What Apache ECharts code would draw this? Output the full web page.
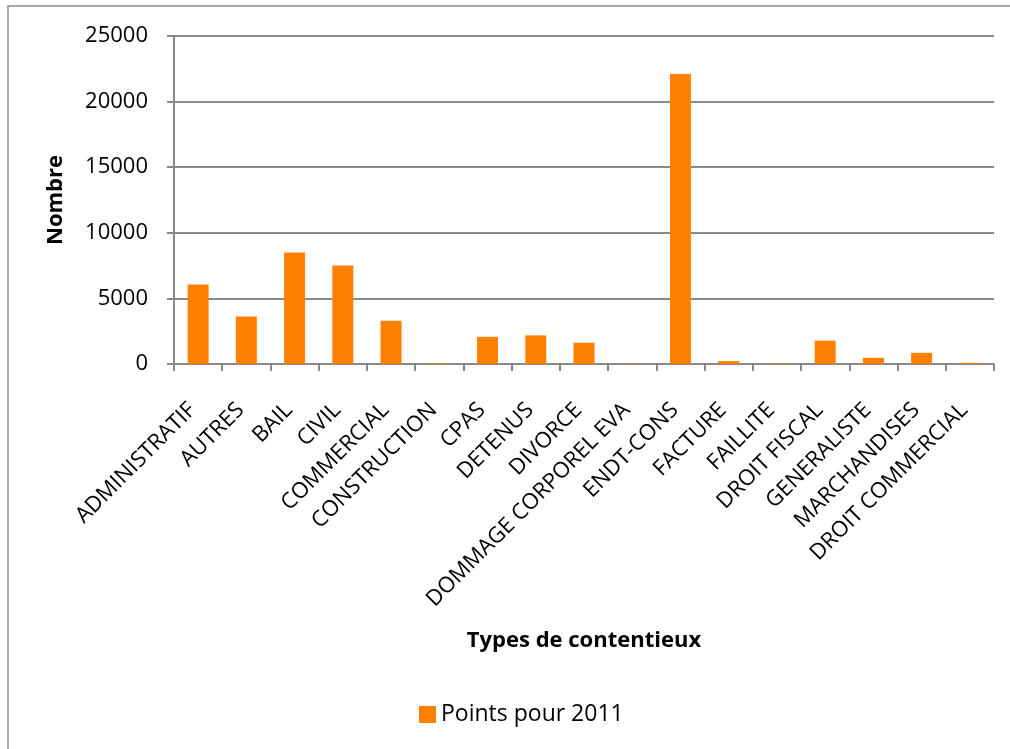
<!DOCTYPE html>
<html>
<head>
<meta charset="utf-8">
<script src="https://cdn.jsdelivr.net/npm/echarts@6/dist/echarts.min.js"></script>
<style>
html,body{margin:0;padding:0;background:#fff;}
#chart{width:1010px;height:749px;}
</style>
</head>
<body>
<div id="chart"></div>
<script>
const categories = ["ADMINISTRATIF","AUTRES","BAIL","CIVIL","COMMERCIAL","CONSTRUCTION","CPAS","DETENUS","DIVORCE","DOMMAGE CORPOREL EVA","ENDT-CONS","FACTURE","FAILLITE","DROIT FISCAL","GENERALISTE","MARCHANDISES","DROIT COMMERCIAL"];
const points2011 = [6050,3620,8500,7500,3300,40,2070,2180,1620,30,22100,220,30,1780,470,850,90];
const seriesName = "Points pour 2011";
const yTicks = [0,5000,10000,15000,20000,25000];

const FONT = "Open Sans";
const GRAY = "#898989";
const chart = echarts.init(document.getElementById('chart'));
chart.setOption({
  animation:false,
  backgroundColor:'#fff',
  textStyle:{fontFamily:FONT},
  graphic:[{type:'rect',shape:{x:8,y:6,width:1100,height:900},style:{fill:'none',stroke:'#8c8c8c',lineWidth:1.5},silent:true}],
  grid:{left:174,right:16,top:36,bottom:385,containLabel:false},
  legend:{
    data:[seriesName],
    top:698,left:414,
    itemWidth:17,itemHeight:17,itemGap:6,
    icon:'rect',
    textStyle:{fontFamily:FONT,fontSize:23,color:'#000'}
  },
  xAxis:{
    type:'category',
    data:categories,
    name:'Types de contentieux',
    nameLocation:'middle',
    nameGap:266,
    nameTextStyle:{fontFamily:FONT,fontSize:22,fontWeight:'bold',color:'#000'},
    axisLine:{lineStyle:{color:GRAY,width:2}},
    axisTick:{show:true,length:7,lineStyle:{color:GRAY,width:2}},
    axisLabel:{rotate:45,interval:0,fontFamily:FONT,fontSize:22,color:'#000',margin:37,padding:[0,8,0,0]}
  },
  yAxis:{
    type:'value',
    min:yTicks[0],max:yTicks[yTicks.length-1],interval:5000,
    name:'Nombre',
    nameLocation:'middle',
    nameGap:107,
    nameTextStyle:{fontFamily:FONT,fontSize:22,fontWeight:'bold',color:'#000'},
    axisLine:{show:true,lineStyle:{color:GRAY,width:2}},
    axisTick:{show:true,length:7,lineStyle:{color:GRAY,width:2}},
    splitLine:{lineStyle:{color:GRAY,width:2}},
    axisLabel:{fontFamily:FONT,fontSize:22,color:'#000',margin:26,formatter:function(v){return String(v);}}
  },
  series:[{
    name:seriesName,
    type:'bar',
    data:points2011,
    barWidth:21,
    itemStyle:{color:'#FF8000'}
  }]
});
</script>
</body>
</html>
